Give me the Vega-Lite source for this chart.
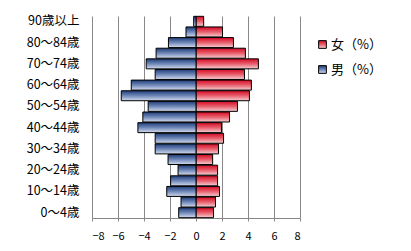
{
  "$schema": "https://vega.github.io/schema/vega-lite/v6.json",
  "autosize": "none",
  "width": 208,
  "height": 202,
  "padding": {"left": 92, "top": 16, "right": 111, "bottom": 33},
  "background": "white",
  "config": {"view": {"stroke": null}, "font": "Noto Sans CJK JP"},
  "data": {"values": [
    {"age": "0～4歳", "sex": "男（%）", "value": -1.33},
    {"age": "5～9歳", "sex": "男（%）", "value": -1.15},
    {"age": "10～14歳", "sex": "男（%）", "value": -2.25},
    {"age": "15～19歳", "sex": "男（%）", "value": -1.95},
    {"age": "20～24歳", "sex": "男（%）", "value": -1.38},
    {"age": "25～29歳", "sex": "男（%）", "value": -2.15},
    {"age": "30～34歳", "sex": "男（%）", "value": -3.14},
    {"age": "35～39歳", "sex": "男（%）", "value": -3.14},
    {"age": "40～44歳", "sex": "男（%）", "value": -4.47},
    {"age": "45～49歳", "sex": "男（%）", "value": -4.09},
    {"age": "50～54歳", "sex": "男（%）", "value": -3.68},
    {"age": "55～59歳", "sex": "男（%）", "value": -5.75},
    {"age": "60～64歳", "sex": "男（%）", "value": -4.98},
    {"age": "65～69歳", "sex": "男（%）", "value": -3.14},
    {"age": "70～74歳", "sex": "男（%）", "value": -3.83},
    {"age": "75～79歳", "sex": "男（%）", "value": -3.07},
    {"age": "80～84歳", "sex": "男（%）", "value": -2.12},
    {"age": "85～89歳", "sex": "男（%）", "value": -0.77},
    {"age": "90歳以上", "sex": "男（%）", "value": -0.18},
    {"age": "0～4歳", "sex": "女（%）", "value": 1.35},
    {"age": "5～9歳", "sex": "女（%）", "value": 1.50},
    {"age": "10～14歳", "sex": "女（%）", "value": 1.81},
    {"age": "15～19歳", "sex": "女（%）", "value": 1.66},
    {"age": "20～24歳", "sex": "女（%）", "value": 1.66},
    {"age": "25～29歳", "sex": "女（%）", "value": 1.28},
    {"age": "30～34歳", "sex": "女（%）", "value": 1.73},
    {"age": "35～39歳", "sex": "女（%）", "value": 2.12},
    {"age": "40～44歳", "sex": "女（%）", "value": 1.96},
    {"age": "45～49歳", "sex": "女（%）", "value": 2.58},
    {"age": "50～54歳", "sex": "女（%）", "value": 3.19},
    {"age": "55～59歳", "sex": "女（%）", "value": 4.11},
    {"age": "60～64歳", "sex": "女（%）", "value": 4.26},
    {"age": "65～69歳", "sex": "女（%）", "value": 3.73},
    {"age": "70～74歳", "sex": "女（%）", "value": 4.80},
    {"age": "75～79歳", "sex": "女（%）", "value": 3.80},
    {"age": "80～84歳", "sex": "女（%）", "value": 2.88},
    {"age": "85～89歳", "sex": "女（%）", "value": 2.04},
    {"age": "90歳以上", "sex": "女（%）", "value": 0.59}
  ]},
  "encoding": {
    "y": {
      "field": "age", "type": "nominal",
      "sort": ["90歳以上","85～89歳","80～84歳","75～79歳","70～74歳","65～69歳","60～64歳","55～59歳","50～54歳","45～49歳","40～44歳","35～39歳","30～34歳","25～29歳","20～24歳","15～19歳","10～14歳","5～9歳","0～4歳"],
      "scale": {"paddingInner": 0.06, "paddingOuter": 0.03},
      "axis": {
        "title": null, "domain": false, "ticks": false, "labelPadding": 13,
        "labelFontSize": 12.5, "labelColor": "black",
        "values": ["0～4歳","10～14歳","20～24歳","30～34歳","40～44歳","50～54歳","60～64歳","70～74歳","80～84歳","90歳以上"]
      }
    },
    "x": {
      "field": "value", "type": "quantitative",
      "scale": {"domain": [-8, 8], "nice": false},
      "axis": {
        "title": null, "values": [-8,-6,-4,-2,0,2,4,6,8],
        "grid": true, "gridColor": "#888888", "gridOpacity": 1,
        "domainColor": "#888888", "tickColor": "#888888", "tickSize": 3,
        "labelPadding": 9, "labelFontSize": 11, "labelColor": "black"
      }
    }
  },
  "layer": [
    {
      "transform": [{"filter": "datum.sex === '女（%）'"}],
      "mark": {"type": "bar", "strokeWidth": 1,
        "fill": {"gradient": "linear", "x1": 0, "y1": 0, "x2": 0, "y2": 1, "stops": [{"offset": 0, "color": "#d40a24"}, {"offset": 0.5, "color": "#e8606e"}, {"offset": 1, "color": "#f6d0d4"}]}},
      "encoding": {
        "stroke": {
          "field": "sex", "type": "nominal",
          "scale": {"domain": ["女（%）"], "range": ["black"]},
          "legend": {
            "title": null, "orient": "none", "legendX": 224, "legendY": 22,
            "symbolType": "square", "symbolSize": 60, "symbolStrokeWidth": 1,
            "labelFontSize": 13, "labelColor": "black", "labelOffset": 2,
            "encode": {"symbols": {"update": {
              "fill": {"value": {"gradient": "linear", "x1": 0, "y1": 0, "x2": 0, "y2": 1, "stops": [{"offset": 0, "color": "#d40a24"}, {"offset": 0.5, "color": "#e8606e"}, {"offset": 1, "color": "#f6d0d4"}]}},
              "fillOpacity": {"value": 1}}}}
          }
        }
      }
    },
    {
      "transform": [{"filter": "datum.sex === '男（%）'"}],
      "mark": {"type": "bar", "strokeWidth": 1,
        "fill": {"gradient": "linear", "x1": 0, "y1": 0, "x2": 0, "y2": 1, "stops": [{"offset": 0, "color": "#1e3c78"}, {"offset": 0.5, "color": "#7088b8"}, {"offset": 1, "color": "#d4dcee"}]}},
      "encoding": {
        "stroke": {
          "field": "sex", "type": "nominal",
          "scale": {"domain": ["男（%）"], "range": ["black"]},
          "legend": {
            "title": null, "orient": "none", "legendX": 224, "legendY": 47,
            "symbolType": "square", "symbolSize": 60, "symbolStrokeWidth": 1,
            "labelFontSize": 13, "labelColor": "black", "labelOffset": 2,
            "encode": {"symbols": {"update": {
              "fill": {"value": {"gradient": "linear", "x1": 0, "y1": 0, "x2": 0, "y2": 1, "stops": [{"offset": 0, "color": "#1e3c78"}, {"offset": 0.5, "color": "#7088b8"}, {"offset": 1, "color": "#d4dcee"}]}},
              "fillOpacity": {"value": 1}}}}
          }
        }
      }
    }
  ],
  "resolve": {"scale": {"stroke": "independent"}, "legend": {"stroke": "independent"}}
}
